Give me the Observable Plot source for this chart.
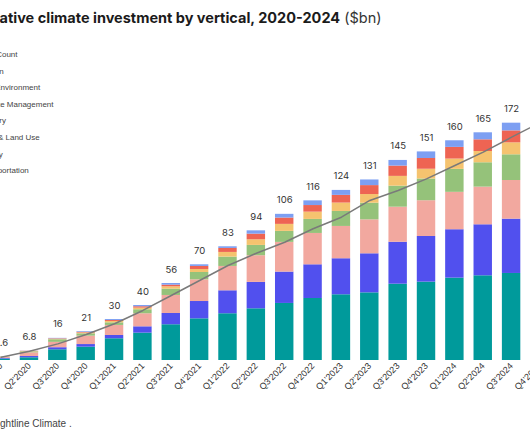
<!DOCTYPE html>
<html>
<head>
<meta charset="utf-8">
<script src="https://cdn.jsdelivr.net/npm/d3@7"></script>
<script src="https://cdn.jsdelivr.net/npm/@observablehq/plot@0.6"></script>
<style>
  html, body { margin: 0; padding: 0; background: #fff; }
  body { width: 530px; height: 442px; overflow: hidden; position: relative; font-family: Inter, "Noto Sans", sans-serif; }
  #chart { position: absolute; left: 0; top: 0; }
  #title { position: absolute; top: 9px; white-space: nowrap; font-size: 14.5px; color: #1b1b1b; line-height: 17px; }
  #title b { font-weight: 700; }
  #title .unit { font-weight: 400; color: #333; }
  #legend { position: absolute; top: 0; left: 0; }
  .li { position: absolute; white-space: nowrap; font-family: "Liberation Sans", Arial, sans-serif; font-size: 8px; color: #444; line-height: 10px; }
  .sw { position: absolute; width: 8px; height: 8px; left: -13px; top: 1px; }
  #caption { position: absolute; top: 418px; white-space: nowrap; font-family: "Liberation Sans", Arial, sans-serif; font-size: 10px; color: #444; line-height: 12px; }
</style>
</head>
<body>
<div id="chart"></div>
<div id="title"><b>Cumulative climate investment by vertical, 2020-2024</b> <span class="unit">($bn)</span></div>
<div id="legend"></div>
<div id="caption">Source: Sightline Climate .</div>
<script>
const quarters = ["Q1'2020","Q2'2020","Q3'2020","Q4'2020","Q1'2021","Q2'2021","Q3'2021","Q4'2021",
  "Q1'2022","Q2'2022","Q3'2022","Q4'2022","Q1'2023","Q2'2023","Q3'2023","Q4'2023",
  "Q1'2024","Q2'2024","Q3'2024","Q4'2024"];
const verticals = ["Transportation","Energy","Food & Land Use","Industry","Climate Management","Built Environment","Carbon"];
const verticalColors = ["#009a9b","#5150ee","#f2a89f","#95c27a","#f5c36f","#ee6453","#7d9ff2"];

const transportation = [1.0, 2.0, 7.8, 9.7, 15.8, 19.9, 26.0, 30.3, 34.0, 37.6, 41.5, 45.1, 47.8, 49.2, 55.5, 57.0, 59.9, 61.6, 63.3, 66.0];
const energy         = [0.5, 0.9, 1.5, 1.9, 2.4, 4.6, 8.2, 12.6, 16.7, 19.2, 22.8, 24.5, 26.2, 28.4, 30.5, 33.2, 35.2, 37.1, 39.5, 41.5];
const foodLandUse    = [0.8, 2.7, 3.9, 6.1, 7.3, 9.5, 13.1, 15.8, 17.7, 19.4, 21.6, 22.8, 23.5, 24.7, 25.5, 26.0, 27.2, 27.4, 28.1, 29.0];
const industry       = [0.2, 0.7, 1.9, 1.7, 1.9, 2.9, 4.6, 5.3, 6.8, 7.5, 8.0, 10.2, 10.9, 12.1, 15.3, 15.8, 16.7, 17.7, 18.7, 19.5];
const climateMgmt    = [0.05, 0.2, 0.4, 0.6, 1.0, 1.2, 1.7, 2.2, 3.4, 4.1, 5.1, 5.3, 6.1, 6.3, 7.1, 7.1, 7.5, 8.2, 8.7, 9.0];
const builtEnv       = [0.03, 0.2, 0.3, 0.5, 0.7, 1.0, 1.2, 2.2, 2.9, 4.1, 4.6, 4.8, 5.6, 6.5, 7.5, 7.8, 8.5, 8.5, 8.7, 9.0];
const carbon         = [0.02, 0.1, 0.3, 0.5, 0.7, 0.9, 1.2, 1.2, 1.2, 2.4, 2.7, 3.4, 3.6, 4.1, 4.1, 4.8, 4.8, 5.1, 5.6, 6.0];
const totalLabels = ["2.6","6.8","16","21","30","40","56","70","83","94","106","116","124","131","145","151","160","165","172","180"];
// deal-count trend line, expressed on the chart's value axis
const dealCountLine = [2.4, 6.8, 12.1, 18.9, 26.7, 36.4, 47.3, 58.2, 69.1, 78.0, 86.0, 95.8, 104.2, 116.4, 123.6, 132.1, 141.8, 151.5, 162.4, 173.0];
const legendLabels = ["Deal Count","Carbon","Built Environment","Climate Management","Industry","Food & Land Use","Energy","Transportation"];

const series = [transportation, energy, foodLandUse, industry, climateMgmt, builtEnv, carbon];
const rows = [];
series.forEach((vals, si) => vals.forEach((v, qi) => rows.push({quarter: quarters[qi], vertical: verticals[si], value: v})));
const totals = quarters.map((q, qi) => ({quarter: q, total: d3.sum(series, s => s[qi]), label: totalLabels[qi]}));
const lineRows = quarters.map((q, qi) => ({quarter: q, v: dealCountLine[qi]}));

const chart = Plot.plot({
  width: 530,
  height: 442,
  marginTop: 30,
  marginBottom: 82,
  marginLeft: 0,
  marginRight: 0,
  style: {fontFamily: "Inter, 'Noto Sans', sans-serif", background: "#fff", overflow: "hidden"},
  x: {type: "band", domain: quarters, range: [-18.54, 558.6], padding: 0.35, round: false},
  y: {domain: [0, 240], range: [360, 30]},
  color: {domain: verticals, range: verticalColors},
  marks: [
    Plot.barY(rows, {x: "quarter", y: "value", fill: "vertical", order: verticals}),
    Plot.line(lineRows, {x: "quarter", y: "v", stroke: "#7a7a7a", strokeWidth: 1.5}),
    Plot.text(totals, {x: "quarter", y: "total", text: "label", dy: -14, fontSize: 9.5, fill: "#333", lineAnchor: "middle"}),
    Plot.axisX({tickRotate: -45, tickSize: 0, tickPadding: 4, fontSize: 9, fontFamily: "'Liberation Sans', Arial, sans-serif", color: "#333", label: null}),
    Plot.axisY({ticks: [], label: null, tickSize: 0})
  ]
});
document.getElementById("chart").appendChild(chart);

// helpers to place texts the way the cropped original shows them
const cv = document.createElement("canvas").getContext("2d");
function w(text, font) { cv.font = font; return cv.measureText(text).width; }

document.getElementById("title").style.left = (-w("Cumul", "700 14.5px Inter, 'Noto Sans', sans-serif") - 0.5) + "px";
document.getElementById("caption").style.left = (-w("Source: Si", "400 10px 'Liberation Sans', Arial, sans-serif")) + "px";

const legend = document.getElementById("legend");
const labelX = -22.5;
const legendColors = ["#7a7a7a"].concat(verticalColors.slice().reverse());
legendLabels.forEach((lab, i) => {
  const item = document.createElement("div");
  item.className = "li";
  item.style.top = (50 + i * 16.6) + "px";
  item.style.left = labelX + "px";
  const sw = document.createElement("span");
  sw.className = "sw";
  sw.style.background = legendColors[i];
  if (i === 0) { sw.style.height = "2px"; sw.style.top = "4px"; }
  item.appendChild(sw);
  item.appendChild(document.createTextNode(lab));
  legend.appendChild(item);
});
</script>
</body>
</html>
